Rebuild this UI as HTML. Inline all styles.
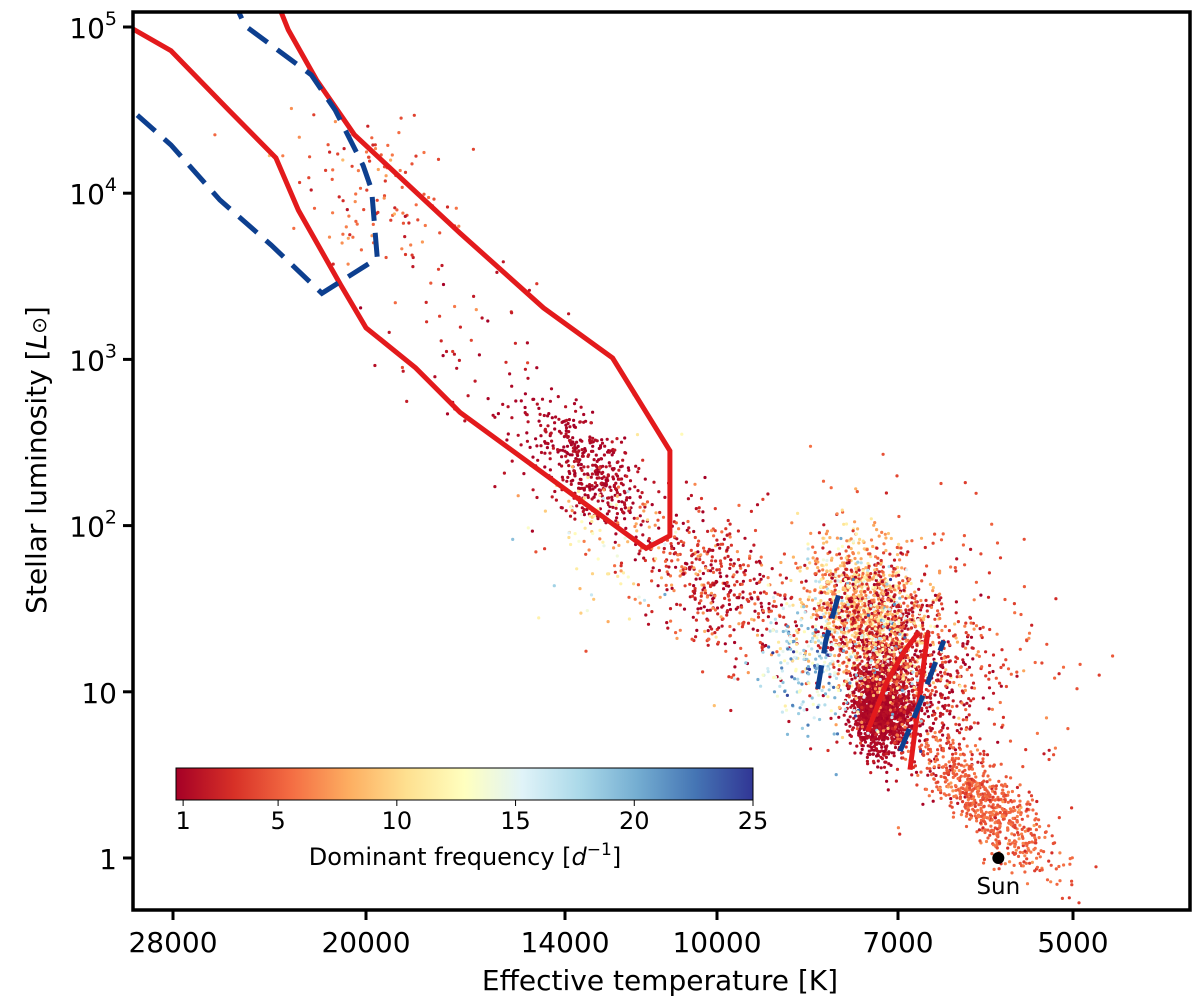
<!DOCTYPE html>
<html><head><meta charset="utf-8">
<style>
html,body{margin:0;padding:0;background:#fff;}
svg text{font-family:"DejaVu Sans","Liberation Sans",sans-serif;fill:#000;}
</style></head>
<body>
<svg id="chart" width="1200" height="1003" viewBox="0 0 1200 1003" xmlns="http://www.w3.org/2000/svg">
<defs>
<clipPath id="plotclip"><rect x="133" y="12" width="1057" height="898"/></clipPath>
<linearGradient id="cmap" x1="0" x2="1" y1="0" y2="0">
<stop offset="0" stop-color="#a50026"/><stop offset="0.1" stop-color="#d73027"/><stop offset="0.2" stop-color="#f46d43"/><stop offset="0.3" stop-color="#fdae61"/><stop offset="0.4" stop-color="#fee090"/><stop offset="0.5" stop-color="#ffffbf"/><stop offset="0.6" stop-color="#e0f3f8"/><stop offset="0.7" stop-color="#abd9e9"/><stop offset="0.8" stop-color="#74add1"/><stop offset="0.9" stop-color="#4575b4"/><stop offset="1" stop-color="#313695"/>
</linearGradient>
</defs>
<g id="points" clip-path="url(#plotclip)"></g>
<g id="lines" clip-path="url(#plotclip)"></g>
<g id="axes"></g>
</svg>
<script>
// axis ticks
const xTickVals = [28000, 20000, 14000, 10000, 7000, 5000];
const xTickLabels = ["28000", "20000", "14000", "10000", "7000", "5000"];
const yTickVals = [1, 10, 100, 1000, 10000, 100000];
const yTickLabels = ["1", "10", "10<tspan dy='-13' font-size='19'>2</tspan>", "10<tspan dy='-13' font-size='19'>3</tspan>", "10<tspan dy='-13' font-size='19'>4</tspan>", "10<tspan dy='-13' font-size='19'>5</tspan>"];
const cbTicks = [1, 5, 10, 15, 20, 25];

// star clusters (Teff center, L center, log spread T, log spread L, T-L slope, count, dominant freq, freq spread)
const clTeff  = [7240, 7450, 7000, 5900, 13300, 10000, 8300, 19500, 6500, 12500, 7300, 17000];
const clLum   = [7.8, 30, 14, 2.1, 220, 45, 14, 9000, 20, 70, 22, 1500];
const clSdT   = [0.011, 0.025, 0.033, 0.03, 0.03, 0.035, 0.02, 0.035, 0.05, 0.04, 0.025, 0.04];
const clSdL   = [0.12, 0.2, 0.28, 0.12, 0.15, 0.22, 0.2, 0.25, 0.4, 0.3, 0.25, 0.3];
const clSlope = [0, 3, 3, 5.7, 4.5, 3, 2, 3, 3, 3, 3, 3];
const clN     = [1400, 900, 900, 650, 450, 450, 220, 120, 300, 120, 400, 50];
const clFreq  = [1.2, 8, 1.6, 5, 1.2, 2.5, 17, 5, 4.5, 10, 9, 2];
const clFsd   = [0.3, 2.5, 1.0, 0.9, 0.4, 3, 4, 1.5, 1.5, 4, 6, 1];

// instability strip boundaries
const redBigT = [30200,28100,25400,23400,22500,20900,20000,18300,16900,11700,11100,11100,12600,14550,16900,20400,21800,22900,23300];
const redBigL = [100000,72000,31600,16300,7900,2800,1550,890,480,73,87,282,1020,2040,5750,22400,48000,96000,135000];
const blueBigT = [29800,28100,25800,23600,21600,19600,19800,20100,21100,22000,24700,25100];
const blueBigL = [29500,19500,9100,4880,2500,4060,10500,14700,31600,51500,102000,135000];
const redS1T = [7430,7150,6910,6730]; const redS1L = [5.8,11.6,17.7,22.7];
const redS2T = [6840,6610]; const redS2L = [3.4,22.7];
const blueS1T = [8200,8070,7870]; const blueS1L = [10.4,20.3,38.4];
const blueS2T = [6970,6700,6410]; const blueS2L = [4.4,8.8,20.3];

const NS='http://www.w3.org/2000/svg';
const L=133,R=1190,T=12,B=910;
const xPix=[173,366,565,717,898,1073];
function xs(t){
  const lt=Math.log10(t), lv=xTickVals.map(Math.log10);
  let i;
  for(i=0;i<lv.length-2;i++){ if(lt>=lv[i+1]) break; }
  return xPix[i]+(lt-lv[i])/(lv[i+1]-lv[i])*(xPix[i+1]-xPix[i]);
}
function ys(l){ return 858-Math.log10(l)*166.2; }
const stops=[[165,0,38],[215,48,39],[244,109,67],[253,174,97],[254,224,144],[255,255,191],[224,243,248],[171,217,233],[116,173,209],[69,117,180],[49,54,149]];
function cmap(f){
  let u=(f-0.7)/24.3; u=Math.max(0,Math.min(1,u));
  const p=u*10, i=Math.min(9,Math.floor(p)), r=p-i;
  const c=stops[i].map((v,k)=>Math.round(v+(stops[i+1][k]-v)*r));
  return 'rgb('+c.join(',')+')';
}
let seed=12345;
function rnd(){ seed=(seed*1103515245+12345)%2147483648; return seed/2147483648; }
function gauss(){ return Math.sqrt(-2*Math.log(rnd()+1e-9))*Math.cos(2*Math.PI*rnd()); }

const pg=document.getElementById('points');
for(let c=0;c<clTeff.length;c++){
  const lt0=Math.log10(clTeff[c]), ll0=Math.log10(clLum[c]);
  for(let k=0;k<clN[c];k++){
    const dt=gauss()*clSdT[c];
    const lt=lt0+dt;
    const ll=ll0+gauss()*clSdL[c]+dt*clSlope[c];
    const f=Math.abs(clFreq[c]+gauss()*clFsd[c]);
    const e=document.createElementNS(NS,'circle');
    
    
    e.setAttribute('cx',xs(Math.pow(10,lt)).toFixed(1));
    e.setAttribute('cy',ys(Math.pow(10,ll)).toFixed(1));
    e.setAttribute('r','1.6');
    e.setAttribute('fill',cmap(f));
    pg.appendChild(e);
  }
}
const lg=document.getElementById('lines');
function poly(ts,ls,color,dash,name){
  const e=document.createElementNS(NS,'polyline');
  
  
  e.setAttribute('points',ts.map((t,i)=>xs(t).toFixed(1)+','+ys(ls[i]).toFixed(1)).join(' '));
  e.setAttribute('fill','none');
  e.setAttribute('stroke',color);
  e.setAttribute('stroke-width','5');
  if(dash) e.setAttribute('stroke-dasharray','24,12');
  lg.appendChild(e);
}
poly(redBigT,redBigL,'#e31a1c',false,'red-strip-massive');
poly(blueBigT,blueBigL,'#0d3f8f',true,'blue-strip-massive');
poly(redS1T,redS1L,'#e31a1c',false,'red-strip-blue-edge');
poly(redS2T,redS2L,'#e31a1c',false,'red-strip-red-edge');
poly(blueS1T,blueS1L,'#0d3f8f',true,'blue-strip-blue-edge');
poly(blueS2T,blueS2L,'#0d3f8f',true,'blue-strip-red-edge');

const ag=document.getElementById('axes');
let h='';
h+=`<circle cx="${xs(5772)}" cy="${ys(1)}" r="6" fill="#000"/>`;
h+=`<text x="${xs(5772)}" y="${ys(1)+36}" font-size="23" text-anchor="middle">Sun</text>`;
h+=`<rect x="${L}" y="${T}" width="${R-L}" height="${B-T}" fill="none" stroke="#000" stroke-width="3.5"/>`;
xTickVals.forEach((v,i)=>{const x=xs(v);
 h+=`<line x1="${x}" x2="${x}" y1="${B}" y2="${B+10}" stroke="#000" stroke-width="3"/>`;
 h+=`<text x="${x}" y="${B+42}" font-size="28" text-anchor="middle">${xTickLabels[i]}</text>`;});
yTickVals.forEach((v,i)=>{const y=ys(v);
 h+=`<line x1="${L-10}" x2="${L}" y1="${y}" y2="${y}" stroke="#000" stroke-width="3"/>`;
 h+=`<text x="${L-16}" y="${y+11}" font-size="28" text-anchor="end">${yTickLabels[i]}</text>`;});
h+=`<text x="660" y="990" font-size="28" text-anchor="middle">Effective temperature [K]</text>`;
h+=`<text transform="translate(46,460) rotate(-90)" font-size="28" text-anchor="middle">Stellar luminosity [<tspan font-style="italic">L</tspan><tspan font-size="20">⊙</tspan>]</text>`;
// colorbar
const cbL=176,cbR=753,cbT=768,cbB=800;
function cx(f){return cbL+(f-0.7)/24.3*(cbR-cbL);}
h+=`<rect x="${cbL}" y="${cbT}" width="${cbR-cbL}" height="${cbB-cbT}" fill="url(#cmap)" stroke="#000" stroke-width="1"/>`;
cbTicks.forEach(v=>{const x=cx(v);
 h+=`<line x1="${x}" x2="${x}" y1="${cbB}" y2="${cbB+6}" stroke="#000" stroke-width="1"/>`;
 h+=`<text x="${x}" y="${cbB+29}" font-size="24" text-anchor="middle">${v}</text>`;});
h+=`<text x="465" y="865" font-size="24" text-anchor="middle">Dominant frequency [<tspan font-style="italic">d</tspan><tspan dy="-10" font-size="17">−1</tspan><tspan dy="10">]</tspan></text>`;
ag.innerHTML=h;
</script>
</body></html>
